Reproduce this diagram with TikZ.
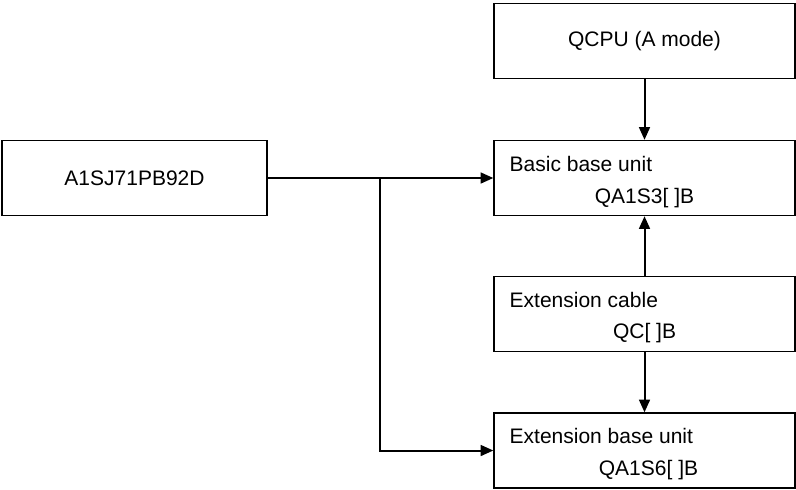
\documentclass[tikz,border=0pt]{standalone}
\usepackage{fontspec}
\setmainfont{Liberation Sans}
\usetikzlibrary{arrows.meta, positioning}
\tikzstyle{line} = [draw, -{Triangle[length=6.3pt,width=5.4pt]}, line width=1pt]

\begin{document}
\begin{tikzpicture}[x=0.5pt, y=-0.5pt, unit/.style={rectangle,draw=black,line width=0.7pt,minimum width=150.5pt,minimum height=37.5pt,inner sep=0pt}, tag/.style={inner sep=0pt}, font=\fontsize{10.5}{12}\selectfont]

    \useasboundingbox (0,0) rectangle (796,489);

    \tikzset{first line/.style={tag, anchor=west, xshift=8pt, yshift=-12pt}}

    \node[unit] (qcpu) at (644.5,41) {QCPU (A mode)};
    \node[unit, minimum width=132.5pt] (master) at (134.5,178) {A1SJ71PB92D};
    \node[unit] (basic) at (644.5,178) {};
    \node[unit] (cable) at (644.5,314) {};
    \node[unit] (extbase) at (644.5,450.5) {};

    \node[first line] (basic-a) at (basic.north west) {Basic base unit};
    \node[tag, yshift=9pt] (basic-b) at (basic.south) {QA1S3[ ]B};
    \node[first line] (cable-a) at (cable.north west) {Extension cable};
    \node[tag, yshift=9.5pt] (cable-b) at (cable.south) {QC[ ]B};
    \node[first line] (extbase-a) at (extbase.north west) {Extension base unit};
    \node[tag, yshift=9.5pt, xshift=2pt] (extbase-b) at (extbase.south) {QA1S6[ ]B};

    \coordinate (split) at (380,178);

    \draw[line] (qcpu) -- (basic);
    \draw[line] (master) -- (basic);
    \draw[line] (cable) -- (basic);
    \draw[line] (cable) -- (extbase);
    \draw[line] (split) |- (extbase);

\end{tikzpicture}
\end{document}
